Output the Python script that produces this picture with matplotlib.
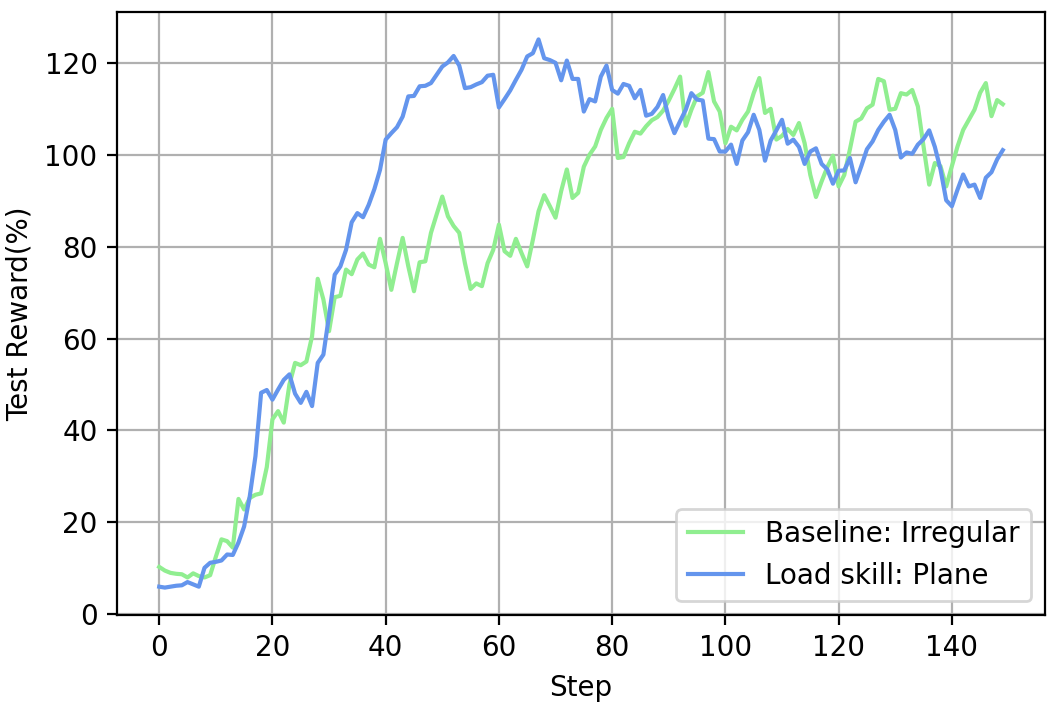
import numpy as np
import matplotlib
matplotlib.use("Agg")
import matplotlib.pyplot as plt

# values, one per step
baseline = [
    10.3, 9.5, 9.0, 8.8, 8.7, 8.0, 8.9, 8.3, 8.0, 8.5,
    12.5, 16.3, 15.9, 14.5, 25.1, 22.8, 25.3, 26.0, 26.3, 32.0,
    42.4, 44.2, 41.7, 50.0, 54.7, 54.2, 55.0, 60.5, 73.0, 68.5,
    61.6, 69.0, 69.3, 75.0, 74.0, 77.2, 78.5, 76.1, 75.5, 81.7,
    76.4, 70.6, 76.4, 81.9, 75.7, 70.3, 76.6, 76.8, 83.0, 87.0,
    90.9, 86.6, 84.5, 83.0, 76.4, 70.8, 72.0, 71.4, 76.4, 79.3,
    84.8, 79.0, 78.0, 81.7, 78.6, 75.7, 81.5, 87.7, 91.2, 88.8,
    86.3, 92.1, 96.8, 90.6, 91.7, 97.4, 100.0, 101.8, 105.4, 108.0,
    110.0, 99.3, 99.5, 102.5, 105.0, 104.6, 106.2, 107.5, 108.2, 109.6,
    111.8, 114.3, 117.0, 106.3, 109.8, 112.7, 113.5, 118.0, 111.6, 109.4,
    102.5, 106.1, 105.3, 107.6, 109.4, 113.4, 116.7, 109.1, 110.0, 103.3,
    104.1, 105.6, 104.3, 106.9, 102.5, 95.6, 90.8, 94.2, 97.3, 99.8,
    93.1, 95.6, 101.2, 107.2, 107.9, 110.1, 110.9, 116.5, 116.0, 109.8,
    110.0, 113.4, 113.1, 114.1, 110.5, 101.8, 93.5, 98.2, 97.5, 93.1,
    97.5, 101.8, 105.4, 107.6, 109.8, 113.5, 115.6, 108.4, 111.9, 111.0,
]
load_skill = [
    6.0, 5.8, 6.0, 6.2, 6.3, 7.0, 6.5, 6.0, 10.1, 11.2,
    11.4, 11.7, 13.0, 12.9, 15.6, 19.1, 25.7, 34.4, 48.2, 48.8,
    46.7, 48.9, 51.0, 52.2, 48.0, 46.0, 48.4, 45.3, 54.7, 56.5,
    65.0, 73.9, 75.7, 79.3, 85.3, 87.3, 86.4, 89.1, 92.5, 96.7,
    103.3, 104.7, 106.0, 108.3, 112.7, 112.8, 114.9, 115.0, 115.6, 117.4,
    119.2, 120.1, 121.5, 119.4, 114.5, 114.7, 115.3, 115.8, 117.2, 117.4,
    110.3, 112.1, 114.0, 116.3, 118.5, 121.4, 122.1, 125.1, 121.0, 120.6,
    120.0, 116.2, 120.5, 116.5, 116.5, 109.4, 112.1, 111.6, 117.0, 119.4,
    114.1, 113.3, 115.4, 115.0, 112.3, 114.1, 108.5, 108.9, 110.4, 113.0,
    108.0, 104.7, 107.3, 109.8, 113.4, 112.0, 111.8, 103.5, 103.4, 100.7,
    100.7, 102.2, 98.0, 103.1, 104.9, 108.7, 105.4, 98.7, 103.1, 105.3,
    107.6, 102.4, 103.3, 101.7, 98.0, 100.7, 101.4, 98.0, 96.8, 93.7,
    96.5, 96.6, 99.3, 94.0, 97.5, 101.2, 102.9, 105.4, 107.2, 108.7,
    105.4, 99.4, 100.5, 100.2, 102.2, 103.4, 105.3, 101.7, 96.8, 90.1,
    88.8, 92.4, 95.7, 93.1, 93.5, 90.6, 95.0, 96.2, 99.0, 101.0,
]
labels = ["Baseline: Irregular", "Load skill: Plane"]
steps = np.arange(len(baseline))

DPI = 200
fig = plt.figure(figsize=(1058 / DPI, 706 / DPI), dpi=DPI)
ax = fig.add_axes([0.1106, 0.1289, 0.8771, 0.8541])

ax.plot(steps, baseline, color='#90EE90', label=labels[0])
ax.plot(steps, load_skill, color='#6495ED', label=labels[1])

ax.set_xlabel('Step')
ax.set_ylabel('Test Reward(%)')
ax.set_xticks(np.arange(0, 141, 20))
ax.set_yticks(np.arange(0, 121, 20))
ax.grid(True)
ax.set_axisbelow(True)
ax.legend(loc='lower right')

fig.savefig('out.png', dpi=DPI)
